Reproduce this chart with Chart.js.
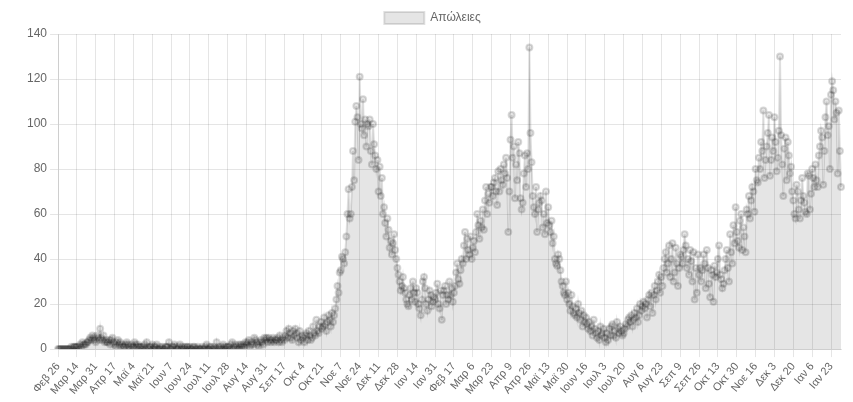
<!DOCTYPE html>
<html>
<head>
<meta charset="utf-8">
<script src="https://cdn.jsdelivr.net/npm/chart.js@4"></script>
<style>
  body { margin: 0; background: #fff; }
  #wrap { width: 853px; height: 402px; }
</style>
</head>
<body>
<div id="wrap"><canvas id="chart"></canvas></div>
<script>
// Greek month abbreviations for the date labels
const months = ['Ιαν', 'Φεβ', 'Μαρ', 'Απρ', 'Μαϊ', 'Ιουν', 'Ιουλ', 'Αυγ', 'Σεπ', 'Οκτ', 'Νοε', 'Δεκ'];
const startDate = [2020, 1, 26]; // Feb 26 2020
const tickEvery = 17;

// daily deaths (17 days per row)
const deaths = [
  0,0,0,0,0,0,0,0,0,0,0,0,1,0,1,1,1,
  1,1,0,2,1,3,2,2,2,3,3,4,5,4,6,5,4,
  3,6,5,4,9,5,4,6,3,4,3,3,4,2,4,5,3,
  2,1,3,4,2,3,1,2,1,1,2,3,2,1,0,2,1,
  1,3,2,1,2,1,1,1,0,1,2,0,3,1,0,1,1,
  2,0,1,1,2,0,0,1,0,1,0,0,1,1,1,3,0,
  0,1,1,2,1,0,0,1,2,0,1,0,1,0,1,1,0,
  1,0,0,1,1,0,0,1,0,0,0,1,0,0,1,2,0,
  0,1,1,0,0,1,0,3,0,1,0,1,0,2,1,0,1,
  1,1,0,2,3,0,1,2,1,0,2,1,2,1,2,1,3,
  2,3,4,1,2,3,2,5,4,3,2,1,3,4,3,2,5,
  4,5,3,5,4,3,4,5,3,4,4,5,3,6,4,3,5,
  4,6,8,5,9,7,5,4,8,6,9,7,5,3,8,4,6,
  5,3,6,7,4,8,6,4,5,10,7,6,13,8,7,10,12,
  9,10,14,11,8,12,15,13,10,16,12,15,18,22,28,25,34,
  35,41,40,38,43,50,60,71,58,60,72,88,75,101,108,103,84,
  121,100,98,111,95,102,90,100,99,102,88,82,100,91,86,80,84,
  70,81,68,76,60,63,56,50,58,53,45,48,42,47,51,44,40,
  36,33,30,26,28,32,27,25,22,20,19,24,27,22,30,25,21,
  27,25,20,18,15,22,30,32,27,20,17,22,26,24,19,21,23,
  22,25,29,20,18,26,13,24,26,28,20,24,22,30,24,27,21,
  25,28,34,38,31,29,35,40,38,46,52,40,49,44,42,50,40,
  45,48,43,52,60,55,49,57,54,62,53,66,72,60,69,65,72,
  72,68,74,76,70,64,79,70,80,75,73,82,78,85,76,52,70,
  93,104,85,90,67,82,75,92,87,67,62,65,78,86,72,87,80,
  134,96,83,68,63,60,72,52,62,65,68,66,54,60,51,70,56,
  63,55,52,57,47,50,40,38,37,42,40,35,30,28,25,24,30,
  22,25,20,17,24,19,16,15,18,14,20,16,13,17,10,15,12,
  14,11,9,12,8,10,6,13,9,7,5,8,4,10,6,7,9,
  5,3,7,4,9,6,10,11,6,8,5,12,9,7,10,8,6,
  7,9,11,10,13,14,12,15,10,13,16,14,18,12,15,20,17,
  19,21,18,20,14,22,24,19,25,16,24,28,22,26,30,33,25,
  32,28,36,40,43,34,38,46,32,40,47,30,34,45,38,28,36,
  42,41,38,44,51,46,36,40,33,44,39,30,43,22,36,25,42,
  33,36,30,35,42,38,27,44,36,29,23,35,33,21,37,32,34,
  40,46,33,31,27,29,35,40,44,36,30,51,43,38,55,47,63,
  52,48,45,57,60,44,54,50,43,62,60,68,58,66,72,70,61,
  80,75,74,85,80,92,88,106,76,84,90,96,104,77,84,94,88,
  103,92,79,85,97,130,95,82,68,89,94,75,92,86,78,81,70,
  66,60,58,73,70,62,58,66,76,68,65,61,60,78,77,62,69,
  80,76,72,82,75,72,86,90,97,94,73,88,103,110,95,99,80,
  113,119,115,102,110,105,78,106,88,72
];

// one date label per value
const labels = deaths.map((_, i) => {
  const d = new Date(startDate[0], startDate[1], startDate[2] + i);
  return months[d.getMonth()] + ' ' + d.getDate();
});

Chart.defaults.font.family = '"Liberation Sans", Arial, sans-serif';
Chart.defaults.color = '#666';

new Chart(document.getElementById('chart'), {
  type: 'line',
  data: {
    labels: labels,
    datasets: [{
      label: 'Απώλειες',
      data: deaths,
      fill: true,
      backgroundColor: 'rgba(0,0,0,0.1)',
      borderColor: 'rgba(0,0,0,0.12)',
      borderWidth: 2,
      pointRadius: 3,
      pointBackgroundColor: 'rgba(0,0,0,0.1)',
      pointBorderColor: 'rgba(0,0,0,0.15)',
      tension: 0
    }]
  },
  options: {
    responsive: true,
    maintainAspectRatio: false,
    animation: false,
    layout: { padding: { left: 24, right: 12, top: 2, bottom: 2 } },
    plugins: {
      legend: {
        labels: { boxWidth: 40, font: { size: 12 } }
      }
    },
    scales: {
      x: {
        grid: { color: 'rgba(0,0,0,0.1)' },
        ticks: {
          autoSkip: false,
          maxRotation: 50,
          minRotation: 50,
          font: { size: 11 },
          callback: function (val, i) {
            return i % tickEvery === 0 ? labels[i] : null;
          }
        }
      },
      y: {
        min: 0,
        max: 140,
        grid: { color: 'rgba(0,0,0,0.1)' },
        ticks: { stepSize: 20, font: { size: 12 } }
      }
    }
  }
});
</script>
</body>
</html>
